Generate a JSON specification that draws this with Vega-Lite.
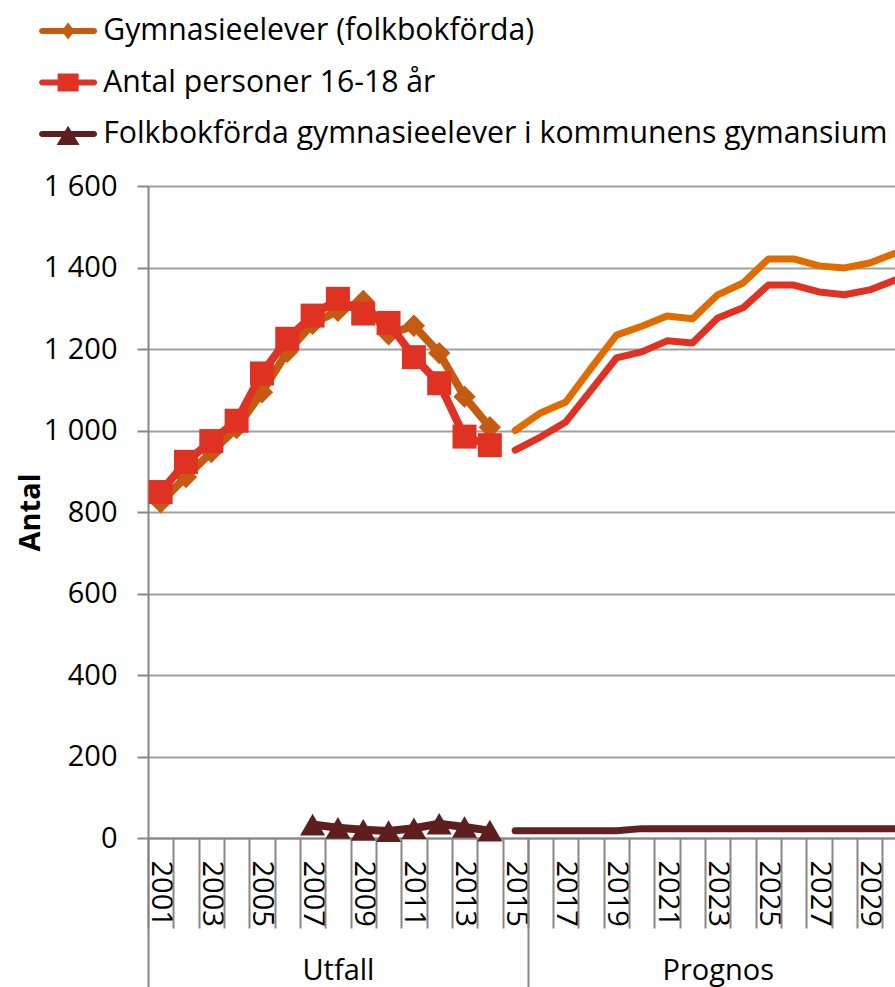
{
  "$schema": "https://vega.github.io/schema/vega-lite/v6.json",
  "width": 747,
  "height": 652,
  "autosize": {"type": "none"},
  "padding": {"left": 148, "top": 186, "right": 0, "bottom": 149},
  "background": "white",
  "config": {
    "font": "Open Sans",
    "view": {"stroke": null},
    "axis": {"labelFont": "Open Sans", "titleFont": "Open Sans"}
  },
  "datasets": {
    "d": [
      {"year": 2001, "series": "Gymnasieelever (folkbokförda)", "phase": "Utfall", "value": 824},
      {"year": 2002, "series": "Gymnasieelever (folkbokförda)", "phase": "Utfall", "value": 886},
      {"year": 2003, "series": "Gymnasieelever (folkbokförda)", "phase": "Utfall", "value": 947},
      {"year": 2004, "series": "Gymnasieelever (folkbokförda)", "phase": "Utfall", "value": 1006},
      {"year": 2005, "series": "Gymnasieelever (folkbokförda)", "phase": "Utfall", "value": 1094},
      {"year": 2006, "series": "Gymnasieelever (folkbokförda)", "phase": "Utfall", "value": 1193},
      {"year": 2007, "series": "Gymnasieelever (folkbokförda)", "phase": "Utfall", "value": 1262},
      {"year": 2008, "series": "Gymnasieelever (folkbokförda)", "phase": "Utfall", "value": 1294},
      {"year": 2009, "series": "Gymnasieelever (folkbokförda)", "phase": "Utfall", "value": 1318},
      {"year": 2010, "series": "Gymnasieelever (folkbokförda)", "phase": "Utfall", "value": 1236},
      {"year": 2011, "series": "Gymnasieelever (folkbokförda)", "phase": "Utfall", "value": 1257},
      {"year": 2012, "series": "Gymnasieelever (folkbokförda)", "phase": "Utfall", "value": 1190},
      {"year": 2013, "series": "Gymnasieelever (folkbokförda)", "phase": "Utfall", "value": 1083},
      {"year": 2014, "series": "Gymnasieelever (folkbokförda)", "phase": "Utfall", "value": 1008},
      {"year": 2015, "series": "Gymnasieelever (folkbokförda)", "phase": "Prognos", "value": 1000},
      {"year": 2016, "series": "Gymnasieelever (folkbokförda)", "phase": "Prognos", "value": 1043},
      {"year": 2017, "series": "Gymnasieelever (folkbokförda)", "phase": "Prognos", "value": 1070},
      {"year": 2018, "series": "Gymnasieelever (folkbokförda)", "phase": "Prognos", "value": 1153},
      {"year": 2019, "series": "Gymnasieelever (folkbokförda)", "phase": "Prognos", "value": 1234},
      {"year": 2020, "series": "Gymnasieelever (folkbokförda)", "phase": "Prognos", "value": 1256},
      {"year": 2021, "series": "Gymnasieelever (folkbokförda)", "phase": "Prognos", "value": 1281},
      {"year": 2022, "series": "Gymnasieelever (folkbokförda)", "phase": "Prognos", "value": 1274},
      {"year": 2023, "series": "Gymnasieelever (folkbokförda)", "phase": "Prognos", "value": 1333},
      {"year": 2024, "series": "Gymnasieelever (folkbokförda)", "phase": "Prognos", "value": 1362},
      {"year": 2025, "series": "Gymnasieelever (folkbokförda)", "phase": "Prognos", "value": 1421},
      {"year": 2026, "series": "Gymnasieelever (folkbokförda)", "phase": "Prognos", "value": 1421},
      {"year": 2027, "series": "Gymnasieelever (folkbokförda)", "phase": "Prognos", "value": 1404},
      {"year": 2028, "series": "Gymnasieelever (folkbokförda)", "phase": "Prognos", "value": 1399},
      {"year": 2029, "series": "Gymnasieelever (folkbokförda)", "phase": "Prognos", "value": 1411},
      {"year": 2030, "series": "Gymnasieelever (folkbokförda)", "phase": "Prognos", "value": 1435},
      {"year": 2001, "series": "Antal personer 16-18 år", "phase": "Utfall", "value": 849},
      {"year": 2002, "series": "Antal personer 16-18 år", "phase": "Utfall", "value": 923},
      {"year": 2003, "series": "Antal personer 16-18 år", "phase": "Utfall", "value": 974},
      {"year": 2004, "series": "Antal personer 16-18 år", "phase": "Utfall", "value": 1024},
      {"year": 2005, "series": "Antal personer 16-18 år", "phase": "Utfall", "value": 1140},
      {"year": 2006, "series": "Antal personer 16-18 år", "phase": "Utfall", "value": 1225},
      {"year": 2007, "series": "Antal personer 16-18 år", "phase": "Utfall", "value": 1282},
      {"year": 2008, "series": "Antal personer 16-18 år", "phase": "Utfall", "value": 1323},
      {"year": 2009, "series": "Antal personer 16-18 år", "phase": "Utfall", "value": 1287},
      {"year": 2010, "series": "Antal personer 16-18 år", "phase": "Utfall", "value": 1264},
      {"year": 2011, "series": "Antal personer 16-18 år", "phase": "Utfall", "value": 1180},
      {"year": 2012, "series": "Antal personer 16-18 år", "phase": "Utfall", "value": 1116},
      {"year": 2013, "series": "Antal personer 16-18 år", "phase": "Utfall", "value": 985},
      {"year": 2014, "series": "Antal personer 16-18 år", "phase": "Utfall", "value": 964},
      {"year": 2015, "series": "Antal personer 16-18 år", "phase": "Prognos", "value": 952},
      {"year": 2016, "series": "Antal personer 16-18 år", "phase": "Prognos", "value": 984},
      {"year": 2017, "series": "Antal personer 16-18 år", "phase": "Prognos", "value": 1021},
      {"year": 2018, "series": "Antal personer 16-18 år", "phase": "Prognos", "value": 1099},
      {"year": 2019, "series": "Antal personer 16-18 år", "phase": "Prognos", "value": 1178},
      {"year": 2020, "series": "Antal personer 16-18 år", "phase": "Prognos", "value": 1193},
      {"year": 2021, "series": "Antal personer 16-18 år", "phase": "Prognos", "value": 1220},
      {"year": 2022, "series": "Antal personer 16-18 år", "phase": "Prognos", "value": 1215},
      {"year": 2023, "series": "Antal personer 16-18 år", "phase": "Prognos", "value": 1276},
      {"year": 2024, "series": "Antal personer 16-18 år", "phase": "Prognos", "value": 1301},
      {"year": 2025, "series": "Antal personer 16-18 år", "phase": "Prognos", "value": 1357},
      {"year": 2026, "series": "Antal personer 16-18 år", "phase": "Prognos", "value": 1357},
      {"year": 2027, "series": "Antal personer 16-18 år", "phase": "Prognos", "value": 1340},
      {"year": 2028, "series": "Antal personer 16-18 år", "phase": "Prognos", "value": 1333},
      {"year": 2029, "series": "Antal personer 16-18 år", "phase": "Prognos", "value": 1345},
      {"year": 2030, "series": "Antal personer 16-18 år", "phase": "Prognos", "value": 1369},
      {"year": 2007, "series": "Folkbokförda gymnasieelever i kommunens gymansium", "phase": "Utfall", "value": 33},
      {"year": 2008, "series": "Folkbokförda gymnasieelever i kommunens gymansium", "phase": "Utfall", "value": 25},
      {"year": 2009, "series": "Folkbokförda gymnasieelever i kommunens gymansium", "phase": "Utfall", "value": 20},
      {"year": 2010, "series": "Folkbokförda gymnasieelever i kommunens gymansium", "phase": "Utfall", "value": 17},
      {"year": 2011, "series": "Folkbokförda gymnasieelever i kommunens gymansium", "phase": "Utfall", "value": 24},
      {"year": 2012, "series": "Folkbokförda gymnasieelever i kommunens gymansium", "phase": "Utfall", "value": 35},
      {"year": 2013, "series": "Folkbokförda gymnasieelever i kommunens gymansium", "phase": "Utfall", "value": 27},
      {"year": 2014, "series": "Folkbokförda gymnasieelever i kommunens gymansium", "phase": "Utfall", "value": 18},
      {"year": 2015, "series": "Folkbokförda gymnasieelever i kommunens gymansium", "phase": "Prognos", "value": 18},
      {"year": 2016, "series": "Folkbokförda gymnasieelever i kommunens gymansium", "phase": "Prognos", "value": 18},
      {"year": 2017, "series": "Folkbokförda gymnasieelever i kommunens gymansium", "phase": "Prognos", "value": 18},
      {"year": 2018, "series": "Folkbokförda gymnasieelever i kommunens gymansium", "phase": "Prognos", "value": 18},
      {"year": 2019, "series": "Folkbokförda gymnasieelever i kommunens gymansium", "phase": "Prognos", "value": 18},
      {"year": 2020, "series": "Folkbokförda gymnasieelever i kommunens gymansium", "phase": "Prognos", "value": 23},
      {"year": 2021, "series": "Folkbokförda gymnasieelever i kommunens gymansium", "phase": "Prognos", "value": 23},
      {"year": 2022, "series": "Folkbokförda gymnasieelever i kommunens gymansium", "phase": "Prognos", "value": 23},
      {"year": 2023, "series": "Folkbokförda gymnasieelever i kommunens gymansium", "phase": "Prognos", "value": 23},
      {"year": 2024, "series": "Folkbokförda gymnasieelever i kommunens gymansium", "phase": "Prognos", "value": 23},
      {"year": 2025, "series": "Folkbokförda gymnasieelever i kommunens gymansium", "phase": "Prognos", "value": 23},
      {"year": 2026, "series": "Folkbokförda gymnasieelever i kommunens gymansium", "phase": "Prognos", "value": 23},
      {"year": 2027, "series": "Folkbokförda gymnasieelever i kommunens gymansium", "phase": "Prognos", "value": 23},
      {"year": 2028, "series": "Folkbokförda gymnasieelever i kommunens gymansium", "phase": "Prognos", "value": 23},
      {"year": 2029, "series": "Folkbokförda gymnasieelever i kommunens gymansium", "phase": "Prognos", "value": 23},
      {"year": 2030, "series": "Folkbokförda gymnasieelever i kommunens gymansium", "phase": "Prognos", "value": 23}
    ]
  },
  "data": {"name": "d"},
  "encoding": {
    "y": {
      "field": "value",
      "type": "quantitative",
      "scale": {"domain": [0, 1600], "nice": false, "zero": true},
      "axis": {
        "values": [0, 200, 400, 600, 800, 1000, 1200, 1400, 1600],
        "labelExpr": "replace(format(datum.value, ','), ',', ' ')",
        "grid": true,
        "gridColor": "#A0A0A0",
        "gridWidth": 2,
        "domainColor": "#878787",
        "domainWidth": 2,
        "tickColor": "#878787",
        "tickWidth": 2,
        "tickSize": 11,
        "labelFontSize": 29,
        "labelColor": "#000000",
        "labelPadding": 20,
        "title": "Antal",
        "titleFontSize": 29,
        "titleFontWeight": "bold",
        "titleColor": "#000000",
        "titleAngle": -90,
        "titleX": -118,
        "titleY": 326,
        "titleAlign": "center",
        "titleBaseline": "middle"
      }
    }
  },
  "layer": [
    {
      "transform": [{"filter": "false"}],
      "mark": {"type": "point", "filled": true, "opacity": 1, "size": 400},
      "encoding": {
        "x": {"field": "year", "type": "quantitative", "scale": {"domain": [2000.5, 2030], "nice": false, "zero": false}, "axis": null},
        "color": {
          "field": "series",
          "type": "nominal",
          "scale": {
            "domain": ["Gymnasieelever (folkbokförda)", "Antal personer 16-18 år", "Folkbokförda gymnasieelever i kommunens gymansium"],
            "range": ["#C55A11", "#E03223", "#5F1E1E"]
          },
          "legend": {
            "orient": "none", "legendX": -95, "legendY": -170, "title": null,
            "labelFontSize": 30.2, "labelColor": "#000000", "labelFont": "Open Sans", "labelLimit": 2000,
            "symbolSize": 400, "rowPadding": 20.5, "labelOffset": 20, "padding": 0,
            "symbolStrokeWidth": 0, "symbolOpacity": 1
          }
        },
        "shape": {
          "field": "series",
          "type": "nominal",
          "scale": {
            "domain": ["Gymnasieelever (folkbokförda)", "Antal personer 16-18 år", "Folkbokförda gymnasieelever i kommunens gymansium"],
            "range": [
              "M-2.6,-0.3H2.6A0.3,0.3 0 0 1 2.6,0.3H-2.6A0.3,0.3 0 0 1 -2.6,-0.3ZM0,-0.85L0.65,0L0,0.85L-0.65,0Z",
              "M-2.6,-0.3H2.6A0.3,0.3 0 0 1 2.6,0.3H-2.6A0.3,0.3 0 0 1 -2.6,-0.3ZM-1.05,-0.9H1.05V0.9H-1.05Z",
              "M-2.6,-0.3H2.6A0.3,0.3 0 0 1 2.6,0.3H-2.6A0.3,0.3 0 0 1 -2.6,-0.3ZM0,-0.84L1.15,1.1H-1.15Z"
            ]
          },
          "legend": {
            "orient": "none", "legendX": -95, "legendY": -170, "title": null,
            "labelFontSize": 30.2, "labelColor": "#000000", "labelFont": "Open Sans", "labelLimit": 2000,
            "symbolSize": 400, "rowPadding": 20.5, "labelOffset": 20, "padding": 0,
            "symbolStrokeWidth": 0, "symbolOpacity": 1
          }
        }
      }
    },
    {
      "transform": [{"filter": "datum.series === 'Gymnasieelever (folkbokförda)' && datum.phase === 'Utfall'"}],
      "mark": {"type": "line", "color": "#C55A11", "strokeWidth": 8, "strokeCap": "round", "strokeJoin": "round"},
      "encoding": {
        "x": {"field": "year", "type": "quantitative", "scale": {"domain": [2000.5, 2030], "nice": false, "zero": false},
          "axis": {"orient": "bottom", "values": [2001, 2003, 2005, 2007, 2009, 2011, 2013, 2015, 2017, 2019, 2021, 2023, 2025, 2027, 2029],
            "format": "d", "labelAngle": 90, "labelAlign": "left", "labelBaseline": "middle", "ticks": false, "tickSize": 0, "grid": false, "domain": true,
            "domainColor": "#878787", "domainWidth": 2, "labelFontSize": 29, "labelColor": "#000000", "labelPadding": 22,
            "labelFlush": false, "labelOverlap": false, "labelBound": false, "title": null}
        }
      }
    },
    {
      "transform": [{"filter": "datum.series === 'Gymnasieelever (folkbokförda)' && datum.phase === 'Utfall'"}],
      "mark": {"type": "point", "shape": "diamond", "filled": true, "opacity": 1, "size": 500, "color": "#C55A11"},
      "encoding": {
        "x": {"field": "year", "type": "quantitative", "scale": {"domain": [2000.5, 2030], "nice": false, "zero": false},
          "axis": {"orient": "bottom", "values": [2000.5, 2001.5, 2002.5, 2003.5, 2004.5, 2005.5, 2006.5, 2007.5, 2008.5, 2009.5, 2010.5, 2011.5, 2012.5, 2013.5, 2014.5, 2015.5, 2016.5, 2017.5, 2018.5, 2019.5, 2020.5, 2021.5, 2022.5, 2023.5, 2024.5, 2025.5, 2026.5, 2027.5, 2028.5, 2029.5],
            "labels": false, "ticks": true, "tickSize": 90, "tickColor": "#878787", "tickWidth": 2, "domain": false, "grid": false, "title": null}
        }
      }
    },
    {
      "transform": [{"filter": "datum.series === 'Antal personer 16-18 år' && datum.phase === 'Utfall'"}],
      "mark": {"type": "line", "color": "#E03223", "strokeWidth": 8, "strokeCap": "round", "strokeJoin": "round"},
      "encoding": {
        "x": {"field": "year", "type": "quantitative", "scale": {"domain": [2000.5, 2030], "nice": false, "zero": false},
          "axis": {"orient": "bottom", "values": [2008, 2023], "labelExpr": "datum.value < 2015 ? 'Utfall' : 'Prognos'",
            "ticks": false, "tickSize": 0, "domain": false, "grid": false, "labelAngle": 0, "labelAlign": "center", "labelBaseline": "top",
            "labelFontSize": 29, "labelColor": "#000000", "labelPadding": 118, "labelFlush": false, "labelOverlap": false, "title": null}
        }
      }
    },
    {
      "transform": [{"filter": "datum.series === 'Antal personer 16-18 år' && datum.phase === 'Utfall'"}],
      "mark": {"type": "point", "shape": "square", "filled": true, "opacity": 1, "size": 576, "color": "#E03223"},
      "encoding": {
        "x": {"field": "year", "type": "quantitative", "scale": {"domain": [2000.5, 2030], "nice": false, "zero": false},
          "axis": {"orient": "bottom", "values": [2000.5, 2015.5], "labels": false, "ticks": true, "tickSize": 149, "tickColor": "#878787", "tickWidth": 2,
            "domain": false, "grid": false, "title": null}
        }
      }
    },
    {
      "transform": [{"filter": "datum.series === 'Folkbokförda gymnasieelever i kommunens gymansium' && datum.phase === 'Utfall'"}],
      "mark": {"type": "line", "color": "#5F1E1E", "strokeWidth": 8, "strokeCap": "round", "strokeJoin": "round"},
      "encoding": {
        "x": {"field": "year", "type": "quantitative", "scale": {"domain": [2000.5, 2030], "nice": false, "zero": false}, "axis": null}
      }
    },
    {
      "transform": [{"filter": "datum.series === 'Folkbokförda gymnasieelever i kommunens gymansium' && datum.phase === 'Utfall'"}],
      "mark": {"type": "point", "shape": "triangle-up", "filled": true, "opacity": 1, "size": 625, "color": "#5F1E1E"},
      "encoding": {
        "x": {"field": "year", "type": "quantitative", "scale": {"domain": [2000.5, 2030], "nice": false, "zero": false}, "axis": null}
      }
    },
    {
      "transform": [{"filter": "datum.series === 'Gymnasieelever (folkbokförda)' && datum.phase === 'Prognos'"}],
      "mark": {"type": "line", "color": "#E06C00", "strokeWidth": 7, "strokeCap": "round", "strokeJoin": "round"},
      "encoding": {
        "x": {"field": "year", "type": "quantitative", "scale": {"domain": [2000.5, 2030], "nice": false, "zero": false}, "axis": null}
      }
    },
    {
      "transform": [{"filter": "datum.series === 'Antal personer 16-18 år' && datum.phase === 'Prognos'"}],
      "mark": {"type": "line", "color": "#E03223", "strokeWidth": 7, "strokeCap": "round", "strokeJoin": "round"},
      "encoding": {
        "x": {"field": "year", "type": "quantitative", "scale": {"domain": [2000.5, 2030], "nice": false, "zero": false}, "axis": null}
      }
    },
    {
      "transform": [{"filter": "datum.series === 'Folkbokförda gymnasieelever i kommunens gymansium' && datum.phase === 'Prognos'"}],
      "mark": {"type": "line", "color": "#632020", "strokeWidth": 7, "strokeCap": "round", "strokeJoin": "round"},
      "encoding": {
        "x": {"field": "year", "type": "quantitative", "scale": {"domain": [2000.5, 2030], "nice": false, "zero": false}, "axis": null}
      }
    }
  ],
  "resolve": {"axis": {"x": "independent"}}
}
